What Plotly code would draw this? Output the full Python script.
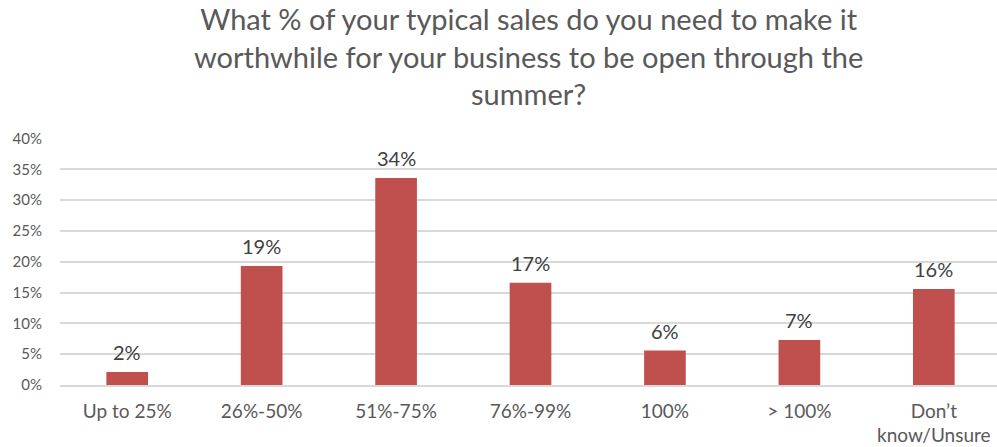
import plotly.graph_objects as go

# Survey responses: share of typical sales needed to stay open through summer
categories = ["Up to 25%", "26%-50%", "51%-75%", "76%-99%", "100%", "> 100%", "Don’t<br>know/Unsure"]
shares = [0.021, 0.193, 0.336, 0.166, 0.056, 0.073, 0.156]
y_ticks = [0, 0.05, 0.10, 0.15, 0.20, 0.25, 0.30, 0.35, 0.40]
y_tick_labels = ["0%", "5%", "10%", "15%", "20%", "25%", "30%", "35%", "40%"]

title_text = ("What % of your typical sales do you need to make it<br>"
              "worthwhile for your business to be open through the<br>summer?")

BAR = "#C0504D"
TEXT = "#595959"
GRID = "#D9D9D9"
FONT = "Lato"

PLOT_TOP, PLOT_BOTTOM = 138, 385

fig = go.Figure(
    go.Bar(
        x=categories,
        y=shares,
        marker=dict(color=BAR, line=dict(width=0)),
        hoverinfo="skip",
    )
)

# value labels above each bar
for cat, val in zip(categories, shares):
    fig.add_annotation(
        x=cat, y=val, text=f"{val:.0%}", showarrow=False,
        yanchor="bottom", yshift=6,
        font=dict(family=FONT, size=20, color="#404040"),
    )

# chart title, three centred lines above the plot
fig.add_annotation(
    xref="paper", yref="paper",
    x=0.5, xanchor="center",
    y=(PLOT_BOTTOM + 1) / (PLOT_BOTTOM - PLOT_TOP), yanchor="top",
    text=title_text, showarrow=False, align="center",
    font=dict(family=FONT, size=29, color=TEXT),
)

fig.update_layout(
    width=997, height=447,
    margin=dict(l=60, r=0, t=PLOT_TOP, b=447 - PLOT_BOTTOM),
    paper_bgcolor="white", plot_bgcolor="white",
    bargap=0.69,
    showlegend=False,
    font=dict(family=FONT, color=TEXT),
)

fig.update_xaxes(
    range=[-0.5, 6.47], automargin=False,
    showgrid=False, showline=True, linecolor=GRID, linewidth=1.5,
    ticks="outside", ticklen=8, tickcolor="rgba(0,0,0,0)",
    tickfont=dict(family=FONT, size=19, color=TEXT),
)
fig.update_yaxes(
    range=[0, 0.401], automargin=False,
    tickvals=y_ticks, ticktext=y_tick_labels,
    showgrid=True, gridcolor=GRID, gridwidth=1.5,
    zeroline=False, showline=False,
    ticks="outside", ticklen=14, tickcolor="rgba(0,0,0,0)",
    tickfont=dict(family=FONT, size=15, color=TEXT),
)

fig.write_html("out.html")
